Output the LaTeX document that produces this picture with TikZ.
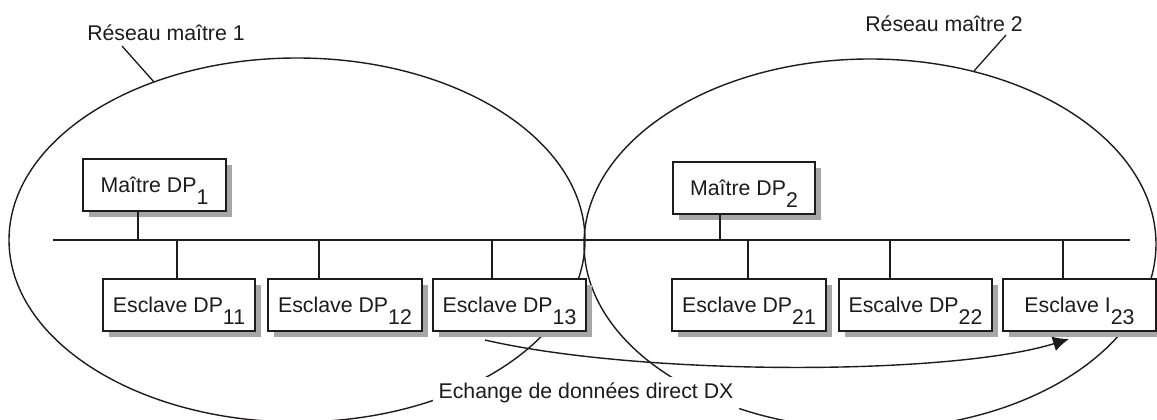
\documentclass[tikz,border=0pt]{standalone}
\usepackage{fontspec}
\setmainfont{Liberation Sans}
\usetikzlibrary{shadows,arrows.meta,shapes.geometric}
\definecolor{ink}{RGB}{30,27,28}
\definecolor{shade}{RGB}{167,167,170}
% index set at full size, lowered below the baseline
\newcommand{\lowidx}[1]{\raisebox{-12pt}[0pt][0pt]{#1}}
\begin{document}
\begin{tikzpicture}[x=1pt,y=-1pt,
  font=\fontsize{21.3}{25}\selectfont,
  every node/.style={text=ink},
  net/.style={draw=ink, line width=1.4pt, ellipse, inner sep=0pt},
  wire/.style={draw=ink, line width=1.4pt},
  unit/.style={draw=ink, line width=1.5pt, fill=white, minimum height=52pt,
    inner sep=0pt,
    drop shadow={shadow xshift=6pt, shadow yshift=-6pt, fill=shade, opacity=1}},
  tag/.style={inner sep=0pt},
  flow/.style={draw=ink, line width=1.4pt, -{Latex[length=16pt,width=15pt]}}]
\useasboundingbox (0,0) rectangle (1157,420);

% the two master networks
\node[net, minimum width=576pt, minimum height=364pt] (net1) at (297,240) {};
\node[net, minimum width=572pt, minimum height=370pt] (net2) at (870,244) {};

% bus
\coordinate (busL) at (53,240);
\coordinate (busR) at (1130,240);
\draw[wire] (busL) -- (busR);

% taps on the bus
\coordinate (tm1) at (138,240);
\coordinate (tm2) at (720,240);
\coordinate (t11) at (177,240);
\coordinate (t12) at (319,240);
\coordinate (t13) at (492,240);
\coordinate (t21) at (748,240);
\coordinate (t22) at (890,240);
\coordinate (t23) at (1063,240);

% stations
\node[unit, minimum width=143pt] (m1) at (154.5,185) {Maître DP\lowidx{1}};
\node[unit, minimum width=142pt] (m2) at (744,188) {Maître DP\lowidx{2}};
\node[unit, minimum width=152pt] (s11) at (179,305) {Esclave DP\lowidx{11}};
\node[unit, minimum width=154pt] (s12) at (345,305) {Esclave DP\lowidx{12}};
\node[unit, minimum width=153pt] (s13) at (509.5,305) {Esclave DP\lowidx{13}};
\node[unit, minimum width=154pt] (s21) at (749,305) {Esclave DP\lowidx{21}};
\node[unit, minimum width=153pt] (s22) at (915.5,305) {Escalve DP\lowidx{22}};
\node[unit, minimum width=153pt] (s23) at (1079.5,305) {Esclave I\lowidx{23}};

% drops from stations to the bus
\draw[wire] (m1.south -| tm1) -- (tm1);
\draw[wire] (m2.south -| tm2) -- (tm2);
\draw[wire] (s11.north -| t11) -- (t11);
\draw[wire] (s12.north -| t12) -- (t12);
\draw[wire] (s13.north -| t13) -- (t13);
\draw[wire] (s21.north -| t21) -- (t21);
\draw[wire] (s22.north -| t22) -- (t22);
\draw[wire] (s23.north -| t23) -- (t23);

% direct data exchange
\coordinate (dxA) at (485,340);
\coordinate (dxB) at (1069,339);
\draw[flow] (dxA) .. controls (640,376) and (950,376) .. (dxB);

% labels
\node[tag] (lab1) at (166,33) {Réseau maître 1};
\node[tag] (lab2) at (944,24) {Réseau maître 2};
\coordinate (p1a) at (122,46);
\coordinate (p1b) at (154,82);
\coordinate (p2a) at (1006,35);
\coordinate (p2b) at (974,71);
\draw[wire, line width=1.3pt] (p1a) -- (p1b);
\draw[wire, line width=1.3pt] (p2a) -- (p2b);
\node[fill=white, inner sep=6pt] (dx) at (586,393) {Echange de données direct DX};
\end{tikzpicture}
\end{document}
